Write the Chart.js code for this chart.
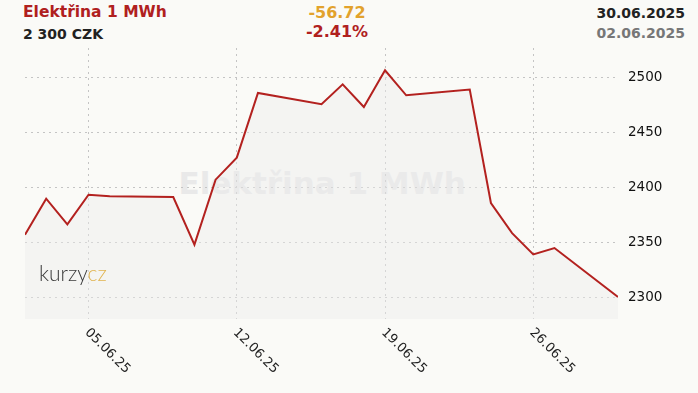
<!DOCTYPE html>
<html>
<head>
<meta charset="utf-8">
<script src="https://cdn.jsdelivr.net/npm/chart.js@4/dist/chart.umd.min.js"></script>
<style>
  html, body { margin: 0; padding: 0; background: #fafaf7; }
  body { width: 698px; height: 393px; position: relative; overflow: hidden; font-family: "DejaVu Sans", Verdana, sans-serif; }
  #wrap { position: absolute; left: 0; top: 0; width: 698px; height: 393px; z-index: 2; }
  .t { position: absolute; white-space: nowrap; line-height: 1; }
  #title { left: 23px; top: 5px; font-size: 15.5px; font-weight: bold; color: #b0201e; }
  #price { left: 23px; top: 27px; font-size: 14px; font-weight: bold; color: #222; }
  #chg { left: 297px; width: 80px; text-align: center; top: 5px; font-size: 16px; font-weight: bold; color: #e2a22c; }
  #pct { left: 297px; width: 80px; text-align: center; top: 24px; font-size: 16px; font-weight: bold; color: #b0201e; }
  #d1 { right: 13px; top: 6px; font-size: 14px; font-weight: bold; color: #222; }
  #d2 { right: 13px; top: 26px; font-size: 14px; font-weight: bold; color: #777; }
  #wm { position: absolute; left: 0; top: 0; z-index: 1; font-size: 31px; font-weight: bold; color: #e9e9e9; white-space: nowrap; line-height: 1; }
  #logo { position: absolute; left: 39px; top: 262px; z-index: 3; font-family: Lato, Roboto, sans-serif; font-weight: 300; font-size: 21px; letter-spacing: 0px; line-height: 1; }
  #logo .a { color: #3a3a3a; }
  #logo .b { color: #e0b450; }
</style>
</head>
<body>
<div id="wm">Elektřina 1 MWh</div>
<div id="wrap"><canvas id="c" width="698" height="393"></canvas></div>
<div id="logo"><span class="a">kurzy</span><span class="b">cz</span></div>
<div class="t" id="title">Elektřina 1 MWh</div>
<div class="t" id="price">2 300 CZK</div>
<div class="t" id="chg">-56.72</div>
<div class="t" id="pct">-2.41%</div>
<div class="t" id="d1">30.06.2025</div>
<div class="t" id="d2">02.06.2025</div>
<script>
// Day of June 2025 for each trading day
const days = [2, 3, 4, 5, 6, 9, 10, 11, 12, 13, 16, 17, 18, 19, 20, 23, 24, 25, 26, 27, 30];
const prices = [2356.72, 2389.7, 2366.3, 2393.3, 2391.8, 2391.2, 2347.8, 2407.0, 2427.1, 2486.0,
                2475.7, 2493.9, 2473.2, 2506.7, 2483.9, 2489.1, 2385.7, 2358.3, 2338.9, 2344.7, 2300.0];
const xTickDays = [5, 12, 19, 26];
const xTickLabels = ["05.06.25", "12.06.25", "19.06.25", "26.06.25"];
const yTicks = [2300, 2350, 2400, 2450, 2500];

const points = days.map((d, i) => ({ x: d, y: prices[i] }));

const rotatedLabels = {
  id: 'rotatedLabels',
  afterDraw(chart) {
    const ctx = chart.ctx;
    const xs = chart.scales.x;
    const bottom = chart.chartArea.bottom;
    ctx.save();
    ctx.font = '13px "DejaVu Sans", Verdana, sans-serif';
    ctx.fillStyle = '#222';
    ctx.textAlign = 'left';
    ctx.textBaseline = 'top';
    xTickDays.forEach((d, i) => {
      const px = xs.getPixelForValue(d);
      ctx.save();
      ctx.translate(px + 3, bottom + 7);
      ctx.rotate(45 * Math.PI / 180);
      ctx.fillText(xTickLabels[i], 0, 0);
      ctx.restore();
    });
    ctx.restore();
  }
};

const chart = new Chart(document.getElementById('c'), {
  type: 'line',
  data: {
    datasets: [{
      data: points,
      borderColor: '#b3211f',
      borderWidth: 2,
      backgroundColor: 'rgba(236,236,236,0.42)',
      fill: 'start',
      pointRadius: 0,
      tension: 0
    }]
  },
  options: {
    responsive: false,
    animation: false,
    devicePixelRatio: 1,
    layout: { padding: { left: 25, top: 48, right: 0, bottom: 0 } },
    plugins: { legend: { display: false }, tooltip: { enabled: false } },
    scales: {
      x: {
        type: 'linear',
        min: 2, max: 30,
        afterBuildTicks(s) { s.ticks = xTickDays.map(v => ({ value: v })); },
        afterFit(s) { s.height = 74; },
        ticks: { display: false },
        grid: { color: '#c4c4c4', lineWidth: 1, drawTicks: false, tickLength: 0 },
        border: { display: false, dash: [2, 4] }
      },
      y: {
        position: 'right',
        min: 2280, max: 2527,
        afterBuildTicks(s) { s.ticks = yTicks.map(v => ({ value: v })); },
        afterFit(s) { s.width = 80; },
        ticks: {
          padding: 10,
          color: '#111',
          font: { family: '"DejaVu Sans", Verdana, sans-serif', size: 13.5 },
          callback: v => String(v)
        },
        grid: { color: '#c4c4c4', lineWidth: 1, drawTicks: false, tickLength: 0 },
        border: { display: false, dash: [2, 4] }
      }
    }
  },
  plugins: [rotatedLabels]
});

const wm = document.getElementById('wm');
wm.style.left = (322 - wm.offsetWidth / 2) + 'px';
wm.style.top = '168px';
</script>
</body>
</html>
